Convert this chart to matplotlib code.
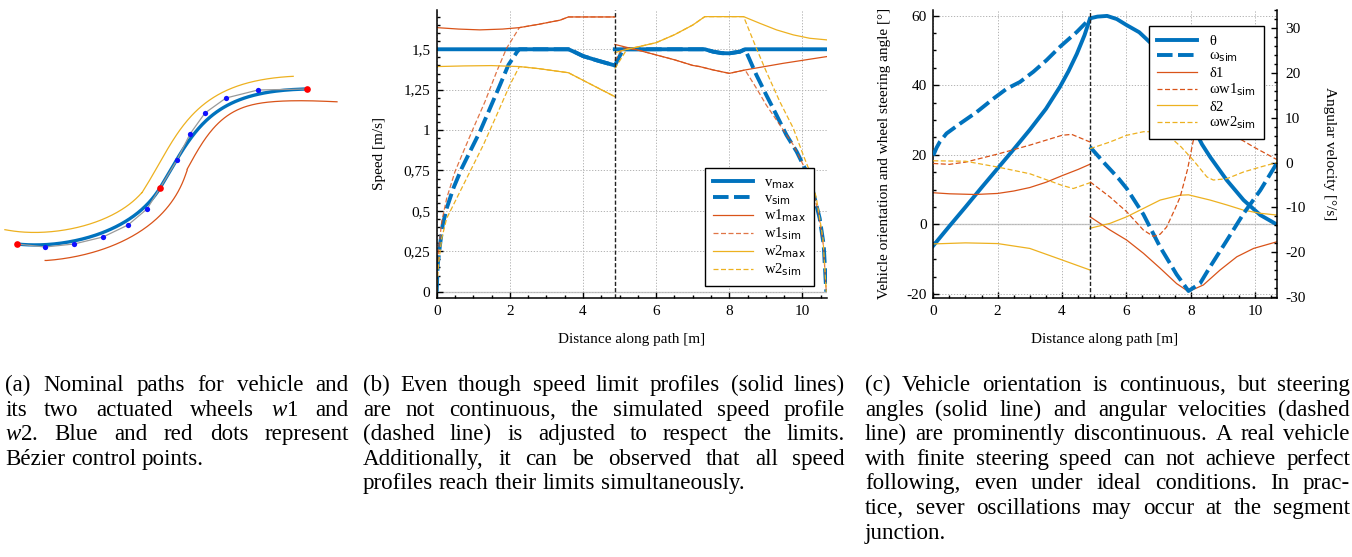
#!/usr/bin/env python3
"""Three-panel figure: nominal paths, speed profiles, orientation/steering."""
from math import comb

import numpy as np
import matplotlib

matplotlib.use("Agg")
import matplotlib.pyplot as plt
from matplotlib.ticker import MultipleLocator

nan = float("nan")

# ---------------- (a) Bezier control points, picture units (y down) --------
seg1_ctrl_x = [17, 45, 74, 103, 128, 147, 160]
seg1_ctrl_y = [244, 247, 244, 237, 225, 209, 188]
seg2_ctrl_x = [160, 177, 190, 205, 226, 258, 307]
seg2_ctrl_y = [188, 160, 134, 113, 98, 90, 89]
# wheel mounting points in the vehicle frame (forward, right)
w1_offset = (29.7, 13.5)
w2_offset = (-13.5, -13.0)

# ---------------- (b) speed profiles [m/s] vs distance [m] -----------------
junction = 4.87
path_end = 10.67

vmax_s = [0, 3.6, 3.8, 4.0, 4.4, 4.87, nan, 4.87, 7.33, 7.56, 7.8, 8.0, 8.29, 8.43, 10.67]
vmax_v = [1.5, 1.5, 1.48, 1.458, 1.43, 1.40, nan, 1.5, 1.5, 1.485, 1.476, 1.475, 1.485, 1.5, 1.5]

vsim_s = [0, 0.027, 0.09, 0.164, 0.273, 0.455, 0.683, 0.91, 1.18, 1.457, 1.73, 1.96, 2.2,
          2.26, 3.6, 3.8, 4.0, 4.4, 4.87, 5.1, 7.33, 7.56, 7.8, 8.0, 8.29, 8.43, 8.74, 9.01,
          9.29, 9.56, 9.84, 10.11, 10.29, 10.47, 10.58, 10.65]
vsim_v = [0, 0.165, 0.289, 0.413, 0.516, 0.64, 0.763, 0.867, 0.99, 1.135, 1.279, 1.403, 1.485,
          1.5, 1.5, 1.48, 1.458, 1.43, 1.40, 1.5, 1.5, 1.485, 1.476, 1.475, 1.485, 1.5, 1.341,
          1.217, 1.093, 0.97, 0.867, 0.743, 0.619, 0.454, 0.289, 0]

w1max_s = [0, 0.6, 1.18, 1.8, 2.26, 2.8, 3.37, 3.6, 4.87, nan, 4.87, 5.5, 6.0, 6.5, 7.0,
           7.19, 7.56, 8.0, 8.43, 9.47, 10.67]
w1max_v = [1.634, 1.625, 1.62, 1.625, 1.634, 1.655, 1.68, 1.70, 1.70, nan, 1.53, 1.495,
           1.465, 1.435, 1.40, 1.393, 1.372, 1.351, 1.372, 1.413, 1.455]

w1sim_s = [0, 0.046, 0.137, 0.273, 0.5, 0.73, 1.0, 1.32, 1.64, 1.91, 2.26, 2.8, 3.37, 3.6,
           4.87, nan, 4.87, 5.1, 5.5, 6.0, 6.5, 7.0, 7.19, 7.56, 8.0, 8.43, 8.74, 9.01, 9.38,
           9.75, 10.02, 10.25, 10.43, 10.57, 10.65]
w1sim_v = [0, 0.248, 0.433, 0.578, 0.743, 0.867, 1.011, 1.176, 1.362, 1.506, 1.634, 1.655,
           1.68, 1.70, 1.70, nan, 1.43, 1.51, 1.495, 1.465, 1.435, 1.40, 1.393, 1.372, 1.351,
           1.372, 1.259, 1.155, 1.032, 0.908, 0.784, 0.66, 0.495, 0.289, 0]

w2max_s = [0, 0.75, 1.5, 2.26, 2.8, 3.37, 3.6, 4.2, 4.87, nan, 4.87, 5.2, 5.6, 6.0, 6.5,
           7.0, 7.33, 8.39, 8.83, 9.29, 9.75, 10.2, 10.67]
w2max_v = [1.393, 1.397, 1.399, 1.393, 1.38, 1.362, 1.355, 1.285, 1.207, nan, 1.479, 1.50,
           1.52, 1.541, 1.59, 1.65, 1.702, 1.702, 1.661, 1.62, 1.589, 1.568, 1.558]

w2sim_s = [0, 0.046, 0.137, 0.273, 0.546, 0.91, 1.275, 1.64, 2.0, 2.26, 2.8, 3.37, 3.6, 4.2,
           4.87, nan, 4.87, 5.2, 5.6, 6.0, 6.5, 7.0, 7.33, 8.39, 8.74, 9.01, 9.38, 9.75,
           10.02, 10.2, 10.38, 10.56, 10.65]
w2sim_v = [0, 0.165, 0.33, 0.454, 0.578, 0.743, 0.908, 1.093, 1.279, 1.393, 1.38, 1.362,
           1.355, 1.285, 1.207, nan, 1.38, 1.50, 1.52, 1.541, 1.59, 1.65, 1.702, 1.702,
           1.506, 1.362, 1.176, 1.011, 0.846, 0.743, 0.578, 0.33, 0]

speed_ticks = [0, 0.25, 0.5, 0.75, 1.0, 1.25, 1.5]
speed_tick_labels = ["0", "0,25", "0,5", "0,75", "1", "1,25", "1,5"]
distance_ticks = [0, 2, 4, 6, 8, 10]

# ---------------- (c) angles [deg] (left) and rates [deg/s] (right) --------
theta_s = [0, 0.5, 1.0, 1.5, 2.0, 2.5, 3.0, 3.5, 3.94, 4.2, 4.46, 4.7, 4.87, 5.1, 5.4, 5.7,
           6.0, 6.4, 6.79, 7.2, 7.6, 7.9, 8.13, 8.35, 8.6, 9.12, 9.64, 10.16, 10.67]
theta_deg = [-6.1, -0.5, 5.0, 10.6, 16.1, 21.6, 27.2, 33.2, 39.6, 44.0, 49.0, 54.4, 59.2,
             59.7, 59.9, 59.0, 57.3, 55.2, 51.8, 45.5, 38.0, 31.5, 27.0, 23.0, 19.4, 12.7,
             7.0, 2.7, 0.0]

omega_s = [0, 0.1, 0.2, 0.41, 0.83, 1.35, 1.87, 2.28, 2.69, 3.11, 3.52, 3.94, 4.46, 4.87,
           nan, 4.87, 5.3, 5.75, 6.01, 6.53, 7.05, 7.56, 7.93, 8.29, 8.6, 9.12, 9.64, 10.16,
           10.67]
omega_dps = [1.6, 3.3, 4.6, 6.5, 8.7, 11.3, 14.3, 16.5, 18.0, 20.3, 22.9, 25.9, 29.2, 32.2,
             nan, 3.5, 0.0, -3.5, -5.8, -11.6, -18.9, -25.0, -28.7, -27.0, -23.3, -17.4,
             -11.4, -6.2, -0.2]

delta1_s = [0, 0.5, 1.3, 2.0, 2.5, 3.0, 3.5, 4.0, 4.5, 4.87, nan, 4.87, 5.49, 6.01, 6.53,
            7.05, 7.56, 7.93, 8.39, 8.91, 9.43, 9.95, 10.67]
delta1_deg = [9.1, 8.8, 8.6, 8.9, 9.6, 10.6, 12.1, 14.0, 15.8, 17.3, nan, 2.2, -1.6, -4.5,
              -8.3, -12.6, -17.0, -19.3, -17.4, -13.1, -9.3, -6.9, -5.0]

omega_w1_s = [0, 0.5, 1.0, 2.0, 3.0, 4.0, 4.3, 4.87, nan, 4.87, 5.49, 6.01, 6.53, 6.84, 7.05,
              7.25, 7.5, 7.67, 7.9, 8.08, 8.3, 8.6, 9.0, 9.43, 10.0, 10.67]
omega_w1_dps = [-0.2, -0.4, 0.1, 1.9, 3.9, 6.1, 6.3, 4.6, nan, -4.3, -7.7, -11.0, -15.1,
                -16.5, -16.0, -14.4, -10.5, -7.7, -1.5, 5.0, 9.0, 10.5, 9.0, 5.7, 3.3, 0.7]

delta2_s = [0, 1.0, 2.0, 3.0, 4.0, 4.87, nan, 4.87, 5.49, 6.01, 6.53, 7.05, 7.67, 7.93, 8.6,
            9.12, 9.64, 10.16, 10.67]
delta2_deg = [-5.6, -5.3, -5.5, -6.9, -10.2, -13.1, nan, -1.1, 0.3, 2.2, 4.6, 7.0, 8.4, 8.5,
              7.0, 5.6, 4.1, 3.2, 2.7]

omega_w2_s = [0, 1.0, 2.0, 3.0, 4.0, 4.35, 4.87, nan, 4.87, 5.49, 6.01, 6.53, 7.0, 7.36, 7.7,
              8.08, 8.5, 8.7, 9.12, 9.64, 10.16, 10.67]
omega_w2_dps = [0.4, 0.3, -1.0, -2.5, -5.1, -5.8, -4.5, nan, 3.1, 4.6, 6.1, 6.9, 6.9, 5.7,
                3.5, 0.5, -3.2, -3.9, -3.6, -2.1, -1.0, 0.0]

angle_ticks = [-20, 0, 20, 40, 60]
rate_ticks = [-30, -20, -10, 0, 10, 20, 30]

# ---------------- captions (line breaks as in the paper) -------------------
caption_a = [
    "(a) Nominal paths for vehicle and",
    "its two actuated wheels $w1$ and",
    "$w2$. Blue and red dots represent",
    "Bézier control points.",
]
caption_b = [
    "(b) Even though speed limit profiles (solid lines)",
    "are not continuous, the simulated speed profile",
    "(dashed line) is adjusted to respect the limits.",
    "Additionally, it can be observed that all speed",
    "profiles reach their limits simultaneously.",
]
caption_c = [
    "(c) Vehicle orientation is continuous, but steering",
    "angles (solid line) and angular velocities (dashed",
    "line) are prominently discontinuous. A real vehicle",
    "with finite steering speed can not achieve perfect",
    "following, even under ideal conditions. In prac-",
    "tice, sever oscillations may occur at the segment",
    "junction.",
]

BLUE = "#0072BD"
RED = "#D95319"
YELLOW = "#EDB120"
GRID = dict(color="#b4b4b4", linestyle=(0, (1.3, 1.7)), linewidth=0.7)
THICK_DASH = (0, (4, 1.4))
THIN_DASH = (0, (4, 2))

W, H = 1352, 557


def box(left, top, right, bottom):
    """Axes rectangle from pixel edges (origin top-left)."""
    return [left / W, 1 - bottom / H, (right - left) / W, (bottom - top) / H]


def bezier(cx, cy, n=120):
    t = np.linspace(0.0, 1.0, n)
    deg = len(cx) - 1
    basis = np.array([comb(deg, k) * t ** k * (1 - t) ** (deg - k) for k in range(deg + 1)])
    return basis.T @ np.asarray(cx, float), basis.T @ np.asarray(cy, float)


def wheel_track(x, y, offset):
    """Point rigidly attached to a vehicle that follows (x, y) tangentially."""
    phi = np.arctan2(np.gradient(y), np.gradient(x))
    ox, oy = offset
    return x + ox * np.cos(phi) - oy * np.sin(phi), y + ox * np.sin(phi) + oy * np.cos(phi)


def style_axes(ax):
    for name, spine in ax.spines.items():
        spine.set_visible(name in ("left", "bottom"))
        spine.set_linewidth(1.1)
    ax.tick_params(which="both", direction="in", width=1.0, labelsize=11,
                   top=False, right=False)
    ax.tick_params(which="major", length=4.5)
    ax.tick_params(which="minor", length=2.5)
    ax.tick_params(axis="x", pad=5)
    ax.tick_params(axis="y", pad=4.5)


def plot_paths(fig):
    ax = fig.add_axes(box(0, 60, 350, 280))
    ax.set_xlim(0, 350)
    ax.set_ylim(280, 60)
    ax.axis("off")
    tracks = []
    for cx, cy in ((seg1_ctrl_x, seg1_ctrl_y), (seg2_ctrl_x, seg2_ctrl_y)):
        tracks.append(bezier(cx, cy))
    px = np.concatenate([t[0] for t in tracks])
    py = np.concatenate([t[1] for t in tracks])
    for offset, colour in ((w2_offset, YELLOW), (w1_offset, RED)):
        parts = [wheel_track(tx, ty, offset) for tx, ty in tracks]
        ax.plot(np.concatenate([p[0] for p in parts]), np.concatenate([p[1] for p in parts]),
                color=colour, lw=0.9)
    ax.plot(px, py, color=BLUE, lw=2.4, solid_capstyle="round")
    ctrl_x = seg1_ctrl_x + seg2_ctrl_x[1:]
    ctrl_y = seg1_ctrl_y + seg2_ctrl_y[1:]
    ax.plot(ctrl_x, ctrl_y, color="#9a9a9a", lw=0.9)
    ends = (0, 6, 12)
    inner = [i for i in range(len(ctrl_x)) if i not in ends]
    ax.plot([ctrl_x[i] for i in inner], [ctrl_y[i] for i in inner], "o", color="#1010ff",
            ms=3.8, mew=0)
    ax.plot([ctrl_x[i] for i in ends], [ctrl_y[i] for i in ends], "o",
            color="#ff0000", ms=4.8, mew=0)


def plot_speed(fig):
    ax = fig.add_axes(box(436.7, 10, 827, 297.7))
    style_axes(ax)
    ax.set_xlim(0, path_end)
    ax.set_ylim(-0.037, 1.743)
    ax.set_xticks(distance_ticks)
    ax.set_yticks(speed_ticks, speed_tick_labels)
    ax.xaxis.set_minor_locator(MultipleLocator(0.5))
    ax.yaxis.set_minor_locator(MultipleLocator(0.05))
    ax.grid(True, which="major", **GRID)
    ax.axhline(0, color="#c8c8c8", lw=1.0, zorder=1)

    ax.plot(vmax_s, vmax_v, color=BLUE, lw=2.8, label=r"$\mathrm{v}_{\mathsf{max}}$")
    ax.plot(vsim_s, vsim_v, color=BLUE, lw=2.8, ls=THICK_DASH,
            label=r"$\mathrm{v}_{\mathsf{sim}}$")
    ax.plot(w1max_s, w1max_v, color=RED, lw=0.9, label=r"$\mathrm{w1}_{\mathsf{max}}$")
    ax.plot(w1sim_s, w1sim_v, color=RED, lw=0.9, ls=THIN_DASH, alpha=0.8,
            label=r"$\mathrm{w1}_{\mathsf{sim}}$")
    ax.plot(w2max_s, w2max_v, color=YELLOW, lw=0.9, label=r"$\mathrm{w2}_{\mathsf{max}}$")
    ax.plot(w2sim_s, w2sim_v, color=YELLOW, lw=0.9, ls=THIN_DASH,
            label=r"$\mathrm{w2}_{\mathsf{sim}}$")
    ax.axvline(junction, color="#222222", lw=1.0, ls=(0, (3, 1.5)))

    ax.set_xlabel("Distance along path [m]", fontsize=11, va="center")
    ax.xaxis.set_label_coords(0.5, -0.1446)
    ax.set_ylabel("Speed [m/s]", fontsize=11, va="center")
    ax.yaxis.set_label_coords(-0.1453, 0.5)

    leg = ax.legend(loc="lower right", bbox_to_anchor=(0.9675, 0.0407), borderaxespad=0,
                    fontsize=10.5, fancybox=False, framealpha=1, edgecolor="black",
                    handlelength=2.75, handletextpad=0.8, labelspacing=0.12,
                    borderpad=0.55)
    leg.get_frame().set_linewidth(1.0)


def plot_angles(fig):
    ax = fig.add_axes(box(933.3, 10, 1276.7, 297.7))
    style_axes(ax)
    ax.set_xlim(0, path_end)
    ax.set_ylim(-21.05, 61.6)
    ax.set_xticks(distance_ticks)
    ax.set_yticks(angle_ticks)
    ax.xaxis.set_minor_locator(MultipleLocator(0.5))
    ax.yaxis.set_minor_locator(MultipleLocator(5))
    ax.grid(True, which="major", **GRID)
    ax.axhline(0, color="#c8c8c8", lw=1.0, zorder=1)

    rate = ax.twinx()
    for name, spine in rate.spines.items():
        spine.set_visible(name == "right")
        spine.set_linewidth(1.1)
    rate.set_ylim(-30.2, 34.1)
    rate.set_yticks(rate_ticks)
    rate.yaxis.set_minor_locator(MultipleLocator(2))
    rate.tick_params(which="both", direction="in", width=1.0, labelsize=11, pad=6)
    rate.tick_params(which="major", length=4.5)
    rate.tick_params(which="minor", length=2.5)

    h_theta, = ax.plot(theta_s, theta_deg, color=BLUE, lw=2.8)
    h_d1, = ax.plot(delta1_s, delta1_deg, color=RED, lw=0.9)
    h_d2, = ax.plot(delta2_s, delta2_deg, color=YELLOW, lw=0.9)
    h_om, = rate.plot(omega_s, omega_dps, color=BLUE, lw=2.8, ls=THICK_DASH)
    h_w1, = rate.plot(omega_w1_s, omega_w1_dps, color=RED, lw=0.9, ls=THIN_DASH)
    h_w2, = rate.plot(omega_w2_s, omega_w2_dps, color=YELLOW, lw=0.9, ls=THIN_DASH)
    ax.axvline(junction, color="#222222", lw=1.0, ls=(0, (3, 1.5)))

    ax.set_xlabel("Distance along path [m]", fontsize=11, va="center")
    ax.xaxis.set_label_coords(0.5, -0.1446)
    ax.set_ylabel("Vehicle orientation and wheel steering angle [°]", fontsize=11,
                  va="center")
    ax.yaxis.set_label_coords(-0.1407, 0.5)
    rate.set_ylabel("Angular velocity [°/s]", fontsize=11, rotation=270, va="center")
    rate.yaxis.set_label_coords(1.155, 0.5)

    labels = [r"$\mathrm{\theta}$", r"$\mathrm{\omega}_{\mathsf{sim}}$",
              r"$\mathrm{\delta 1}$", r"$\mathrm{\omega w1}_{\mathsf{sim}}$",
              r"$\mathrm{\delta 2}$", r"$\mathrm{\omega w2}_{\mathsf{sim}}$"]
    leg = rate.legend([h_theta, h_om, h_d1, h_w1, h_d2, h_w2], labels, loc="upper right",
                      bbox_to_anchor=(0.963, 0.944), borderaxespad=0, fontsize=10.5,
                      fancybox=False, framealpha=1, edgecolor="black", handlelength=2.75,
                      handletextpad=0.8, labelspacing=0.12, borderpad=0.55)
    leg.get_frame().set_linewidth(1.0)


def justified(fig, lines, left, right, first_baseline, step=24.6, size=16.6):
    """Place caption lines word by word, justified except for the last line.

    A line that does not fit at the nominal size is set slightly smaller
    (LaTeX squeezes the inter-word space instead).
    """
    renderer = fig.canvas.get_renderer()
    for i, line in enumerate(lines):
        y = 1 - (first_baseline + i * step) / H
        words = line.split(" ")
        last = i == len(lines) - 1
        fs = size
        while True:
            texts = [fig.text(0, y, w, fontsize=fs, va="baseline") for w in words]
            widths = [t.get_window_extent(renderer).width for t in texts]
            space = 0.25 * fs * fig.dpi / 72
            gap = space
            if not last and len(words) > 1:
                gap = (right - left - sum(widths)) / (len(words) - 1)
            if gap >= 0.55 * space or fs < 0.8 * size:
                break
            for t in texts:
                t.remove()
            fs *= 0.98
        x = left
        for t, w in zip(texts, widths):
            t.set_x(x / W)
            x += w + gap


def main():
    plt.rcParams.update({
        "font.family": ["Liberation Serif", "DejaVu Serif"],
        "mathtext.fontset": "custom",
        "mathtext.rm": "Liberation Serif",
        "mathtext.it": "Liberation Serif:italic",
        "mathtext.sf": "DejaVu Sans",
        "axes.unicode_minus": False,
    })
    fig = plt.figure(figsize=(W / 100, H / 100), dpi=100)
    plot_paths(fig)
    plot_speed(fig)
    plot_angles(fig)
    justified(fig, caption_a, 5, 349, 391)
    justified(fig, caption_b, 363, 845, 391)
    justified(fig, caption_c, 865, 1350, 391)
    fig.savefig("out.png", dpi=100)


if __name__ == "__main__":
    main()
